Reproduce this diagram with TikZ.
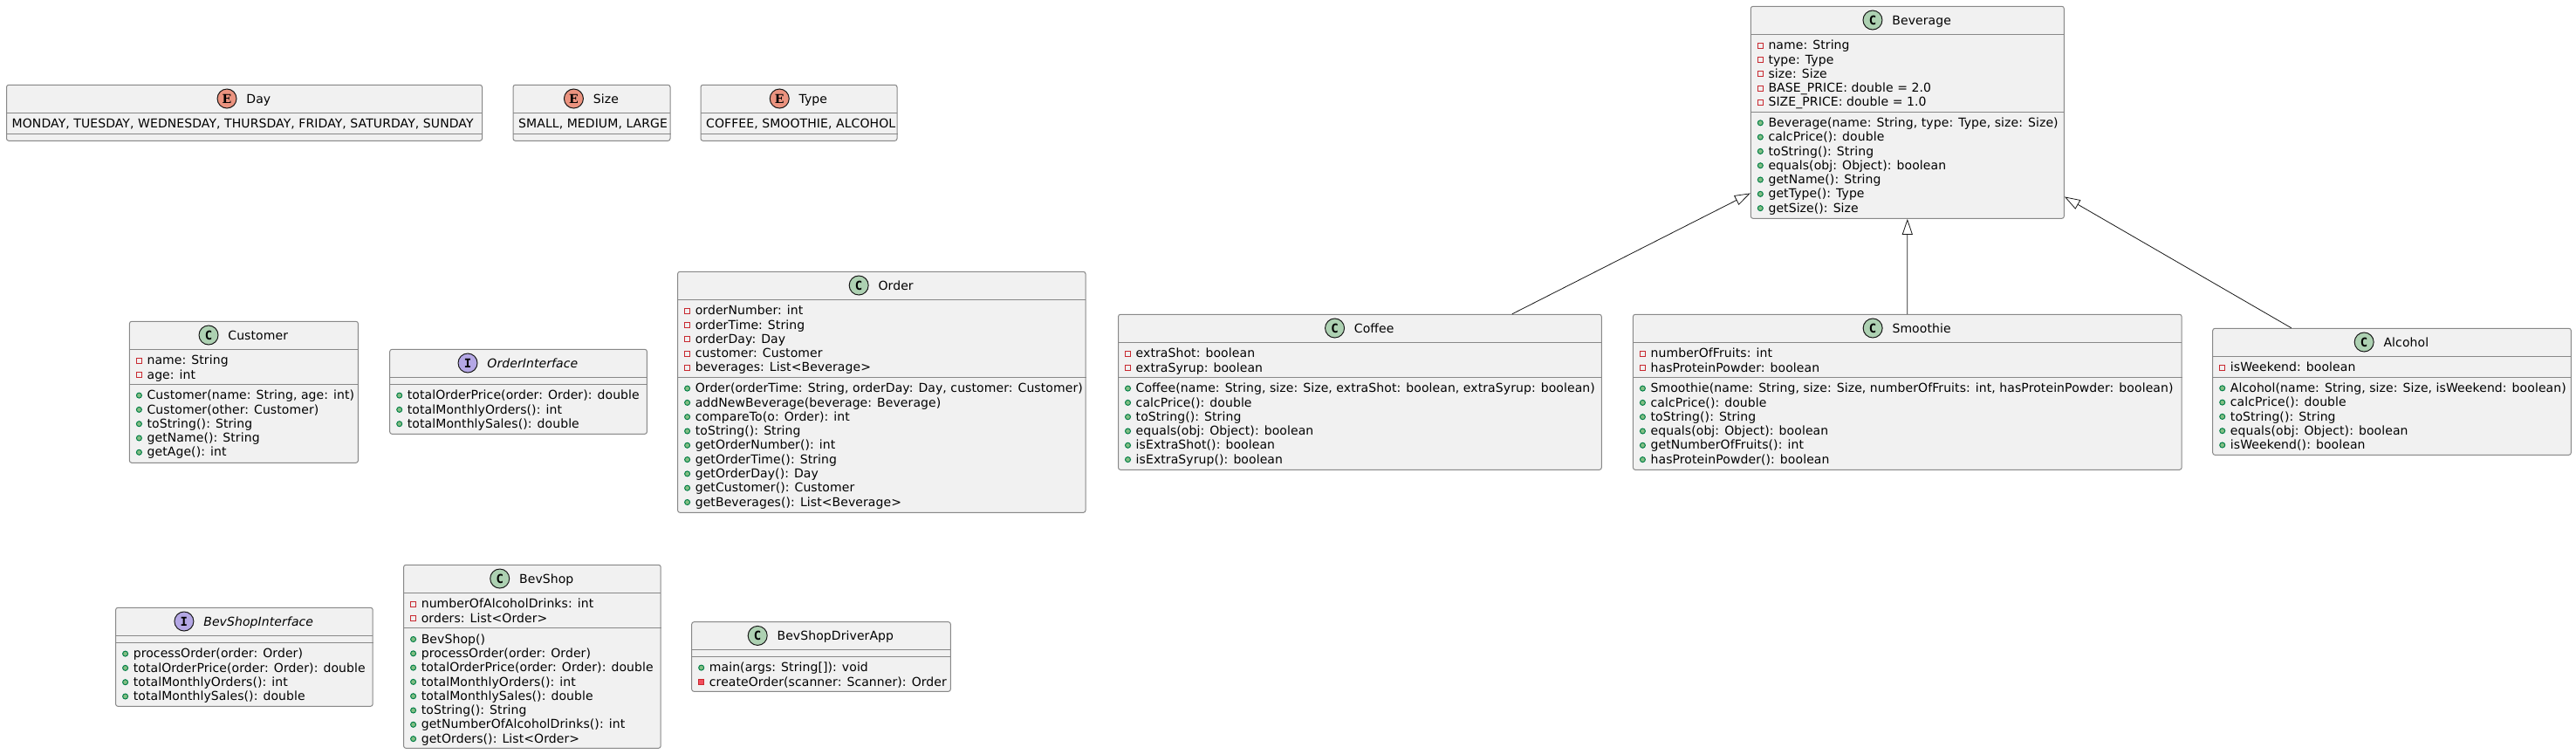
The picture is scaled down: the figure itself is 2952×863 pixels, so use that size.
\documentclass[tikz,border=0pt]{standalone}
\usepackage{fontspec}
\setmainfont[LetterSpace=0.65]{DejaVu Sans}
\setmonofont{DejaVu Sans Mono}
\newfontfamily\badgeserif{DejaVu Serif}
\usepackage{tikz}
\usetikzlibrary{calc, positioning, arrows.meta}

\definecolor{boxfill}{HTML}{F1F1F1}
\definecolor{boxline}{HTML}{888888}
\definecolor{darkline}{HTML}{181818}
\definecolor{classgreen}{HTML}{ADD1B2}
\definecolor{enumred}{HTML}{EB937F}
\definecolor{ifacepurple}{HTML}{B4A7E5}
\definecolor{pubfill}{HTML}{84BE84}
\definecolor{publine}{HTML}{038048}
\definecolor{privfill}{HTML}{F24D5C}
\definecolor{privline}{HTML}{C82930}

\tikzset{
    classbody/.style={draw=boxline, fill=boxfill, line width=1pt, rounded corners=2.5pt, inner sep=0pt},
    classsep/.style={draw=boxline, line width=1pt},
    classtitle/.style={inner sep=0pt, text height=13.6pt, text depth=3pt},
    badge/.style={circle, draw=darkline, line width=1pt, minimum size=22pt, inner sep=0pt, font=\fontsize{14}{16}\selectfont\ttfamily\bfseries},
    rowlabel/.style={anchor=base west, inner sep=0pt},
    pubmark/.style={circle, draw=publine, fill=pubfill, line width=1pt, minimum size=6pt, inner sep=0pt},
    privmark/.style={rectangle, draw=privline, line width=1pt, minimum size=6pt, inner sep=0pt},
    privsolid/.style={privmark, fill=privfill},
    extends/.style={draw=darkline, line width=0.8pt, -{Triangle[open, length=18pt, width=12pt, line width=0.8pt]}}
}

\newcommand{\classbox}[8]{
    \pgfmathsetmacro{\boxw}{#4-#2}
    \pgfmathsetmacro{\boxh}{#5-#3}
    \node[classbody, minimum width=\boxw pt, minimum height=\boxh pt] (#1) at ({(#2+#4)/2}, {(#3+#5)/2}) {};
    \node[classtitle] (#1-title) at ({(#2+#4)/2+16.35}, {#3+15.7}) {#8};
    \node[badge, fill=#7, left=10.7pt of #1-title.west] (#1-badge) {#6};
    \draw[classsep] (#2, #3+32) -- (#4, #3+32);
}
\newcommand{\sepline}[2]{\draw[classsep] (#1.west |- 0,#2) -- (#1.east |- 0,#2);}
\newcommand{\rowsat}[5]{
    \foreach \rowtext [count=\i] in {#5} {
        \pgfmathsetmacro{\rowy}{#3+17.4+(\i-1)*16.3}
        \node[rowlabel] (#1-#4-\i) at ({#2+20}, \rowy) {\rowtext};
        \node[#4] (#1-#4-dot-\i) at ({#2+11}, {\rowy-4.6}) {};
    }
}

\begin{document}
\begin{tikzpicture}[x=1pt, y=-1pt, font=\fontsize{14}{16}\selectfont]
    \useasboundingbox (0,0) rectangle (2952,863);

    \classbox{day}{7.5}{97.3}{552.5}{161.3}{\badgeserif E}{enumred}{Day}
    \sepline{day}{153.3}
    \node[rowlabel] (day-text) at (13.5,146.3) {MONDAY, TUESDAY, WEDNESDAY, THURSDAY, FRIDAY, SATURDAY, SUNDAY};

    \classbox{size}{588}{97.3}{768}{161.3}{\badgeserif E}{enumred}{Size}
    \sepline{size}{153.3}
    \node[rowlabel] (size-text) at (594,146.3) {SMALL, MEDIUM, LARGE};

    \classbox{type}{803}{97.3}{1028}{161.3}{\badgeserif E}{enumred}{Type}
    \sepline{type}{153.3}
    \node[rowlabel] (type-text) at (809,146.3) {COFFEE, SMOOTHIE, ALCOHOL};

    \classbox{customer}{148.4}{368.3}{410.4}{530.3}{C}{classgreen}{Customer}
    \sepline{customer}{440.3}
    \rowsat{customer}{148.4}{400.3}{privmark}{{name: String},{age: int}}
    \rowsat{customer}{148.4}{440.3}{pubmark}{{Customer(name: String, age: int)},{Customer(other: Customer)},{toString(): String},{getName(): String},{getAge(): int}}

    \classbox{orderiface}{446.7}{400.3}{741.4}{497.3}{I}{ifacepurple}{\textit{OrderInterface}}
    \sepline{orderiface}{440.3}
    \rowsat{orderiface}{446.7}{440.3}{pubmark}{{totalOrderPrice(order: Order): double},{totalMonthlyOrders(): int},{totalMonthlySales(): double}}

    \classbox{order}{776.6}{311.3}{1244}{587.3}{C}{classgreen}{Order}
    \sepline{order}{432.3}
    \rowsat{order}{776.6}{343.3}{privmark}{{orderNumber: int},{orderTime: String},{orderDay: Day},{customer: Customer},{beverages: List<Beverage>}}
    \rowsat{order}{776.6}{432.3}{pubmark}{{Order(orderTime: String, orderDay: Day, customer: Customer)},{addNewBeverage(beverage: Beverage)},{compareTo(o: Order): int},{toString(): String},{getOrderNumber(): int},{getOrderTime(): String},{getOrderDay(): Day},{getCustomer(): Customer},{getBeverages(): List<Beverage>}}

    \classbox{shopiface}{132.6}{696.3}{427.2}{809.3}{I}{ifacepurple}{\textit{BevShopInterface}}
    \sepline{shopiface}{736.3}
    \rowsat{shopiface}{132.6}{736.3}{pubmark}{{processOrder(order: Order)},{totalOrderPrice(order: Order): double},{totalMonthlyOrders(): int},{totalMonthlySales(): double}}

    \classbox{shop}{462.6}{647.3}{757.2}{857.3}{C}{classgreen}{BevShop}
    \sepline{shop}{719.7}
    \rowsat{shop}{462.6}{679.3}{privmark}{{numberOfAlcoholDrinks: int},{orders: List<Order>}}
    \rowsat{shop}{462.6}{719.7}{pubmark}{{BevShop()},{processOrder(order: Order)},{totalOrderPrice(order: Order): double},{totalMonthlyOrders(): int},{totalMonthlySales(): double},{toString(): String},{getNumberOfAlcoholDrinks(): int},{getOrders(): List<Order>}}

    \classbox{driver}{792.7}{712.7}{1089.3}{792.3}{C}{classgreen}{BevShopDriverApp}
    \sepline{driver}{752.3}
    \rowsat{driver}{792.7}{752.3}{pubmark}{{main(args: String[]): void}}
    \node[rowlabel] (driver-create) at (812.7,786) {createOrder(scanner: Scanner): Order};
    \node[privsolid] (driver-create-dot) at (803.7,781.4) {};

    \classbox{beverage}{2006.3}{7.3}{2365.3}{250.3}{C}{classgreen}{Beverage}
    \sepline{beverage}{128}
    \rowsat{beverage}{2006.3}{39.3}{privmark}{{name: String},{type: Type},{size: Size},{BASE\_PRICE: double = 2.0},{SIZE\_PRICE: double = 1.0}}
    \rowsat{beverage}{2006.3}{128}{pubmark}{{Beverage(name: String, type: Type, size: Size)},{calcPrice(): double},{toString(): String},{equals(obj: Object): boolean},{getName(): String},{getType(): Type},{getSize(): Size}}

    \classbox{coffee}{1281.5}{360.3}{1835.3}{538.3}{C}{classgreen}{Coffee}
    \sepline{coffee}{432.3}
    \rowsat{coffee}{1281.5}{392.3}{privmark}{{extraShot: boolean},{extraSyrup: boolean}}
    \rowsat{coffee}{1281.5}{432.3}{pubmark}{{Coffee(name: String, size: Size, extraShot: boolean, extraSyrup: boolean)},{calcPrice(): double},{toString(): String},{equals(obj: Object): boolean},{isExtraShot(): boolean},{isExtraSyrup(): boolean}}

    \classbox{smoothie}{1871.4}{360.3}{2500.1}{538.3}{C}{classgreen}{Smoothie}
    \sepline{smoothie}{432.3}
    \rowsat{smoothie}{1871.4}{392.3}{privmark}{{numberOfFruits: int},{hasProteinPowder: boolean}}
    \rowsat{smoothie}{1871.4}{432.3}{pubmark}{{Smoothie(name: String, size: Size, numberOfFruits: int, hasProteinPowder: boolean)},{calcPrice(): double},{toString(): String},{equals(obj: Object): boolean},{getNumberOfFruits(): int},{hasProteinPowder(): boolean}}

    \classbox{alcohol}{2535.7}{376.3}{2946.3}{521.3}{C}{classgreen}{Alcohol}
    \sepline{alcohol}{432}
    \rowsat{alcohol}{2535.7}{408.3}{privmark}{{isWeekend: boolean}}
    \rowsat{alcohol}{2535.7}{432}{pubmark}{{Alcohol(name: String, size: Size, isWeekend: boolean)},{calcPrice(): double},{toString(): String},{equals(obj: Object): boolean},{isWeekend(): boolean}}

    \draw[extends] ($(coffee.north west)!0.8144!(coffee.north east)$) -- ($(beverage.north west)!0.8794!(beverage.south west)$);
    \draw[extends] (smoothie.north) -- (beverage.south);
    \draw[extends] ($(alcohol.north west)!0.22!(alcohol.north east)$) -- ($(beverage.north east)!0.896!(beverage.south east)$);
\end{tikzpicture}
\end{document}
